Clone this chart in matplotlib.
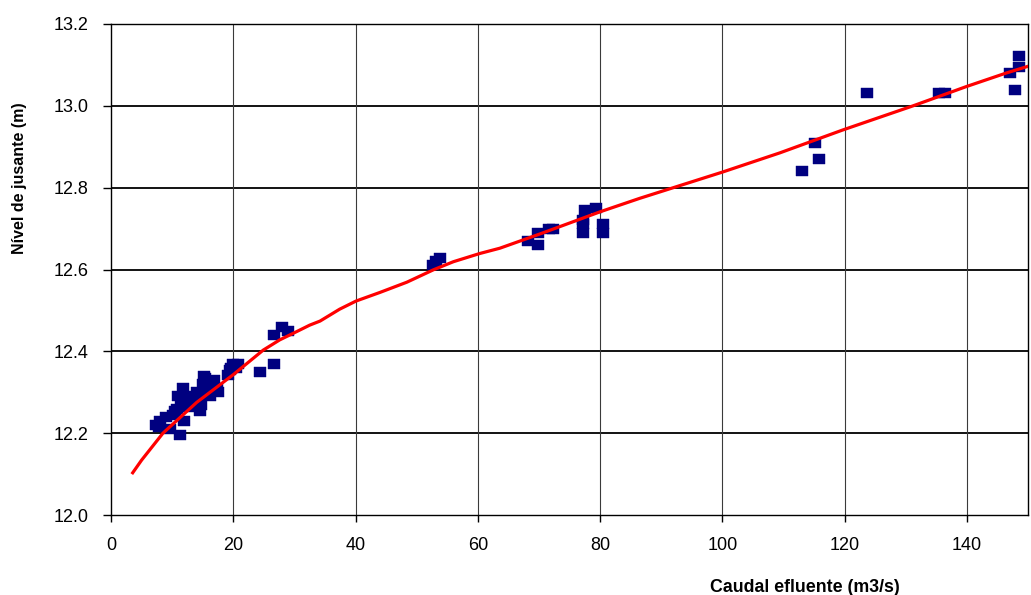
import matplotlib
matplotlib.use("Agg")
import matplotlib.pyplot as plt
from matplotlib.ticker import FormatStrFormatter

plt.rcParams['font.family'] = ['Liberation Sans', 'DejaVu Sans']

# Observed data (Caudal efluente m3/s, Nível de jusante m)
obs_q = [7.3, 7.8, 8.0, 9.0, 9.6, 10.2, 10.5, 10.8, 11.0, 11.3, 11.5, 11.8, 11.9,
         12.0, 12.3, 12.6, 13.0, 13.5, 14.0, 14.3, 14.6, 14.8, 15.0, 15.2, 15.4,
         15.6, 16.2, 16.5, 16.8, 17.3, 17.5, 19.2, 19.5, 19.7, 20.0, 20.8, 20.4,
         24.4, 26.6, 26.6, 27.9, 29.0,
         52.6, 53.2, 53.8,
         68.2, 69.9, 69.9, 71.7, 72.3, 77.5, 77.2, 77.2, 77.2, 79.4, 80.4, 80.4,
         113.0, 115.2, 115.8, 123.6, 135.5, 136.4, 147.0, 147.9, 148.5, 148.5]
obs_h = [12.22, 12.215, 12.23, 12.24, 12.21, 12.245, 12.255, 12.26, 12.29, 12.195, 12.28, 12.31, 12.23,
         12.27, 12.285, 12.265, 12.275, 12.29, 12.30, 12.28, 12.255, 12.27, 12.32, 12.34, 12.335,
         12.295, 12.29, 12.315, 12.33, 12.31, 12.30, 12.342, 12.355, 12.36, 12.37, 12.37, 12.36,
         12.35, 12.37, 12.44, 12.46, 12.45,
         12.61, 12.62, 12.627,
         12.67, 12.69, 12.66, 12.70, 12.70, 12.745, 12.72, 12.71, 12.69, 12.75, 12.71, 12.69,
         12.841, 12.91, 12.87, 13.031, 13.031, 13.031, 13.081, 13.038, 13.122, 13.094]

# Rating curve
curve_q = [3.4, 5.0, 8.5, 14.0, 20.0, 24.9, 27.6, 29.8, 32.5, 34.2, 37.4, 40.1, 44.0,
           48.4, 52.7, 56.0, 60.3, 63.6, 70.0, 80.0, 86.5, 100.0, 109.4, 119.7, 131.2,
           139.9, 146.4, 150.3]
curve_h = [12.10, 12.134, 12.20, 12.275, 12.343, 12.403, 12.428, 12.444, 12.464, 12.474,
           12.503, 12.523, 12.544, 12.569, 12.599, 12.619, 12.639, 12.652, 12.686, 12.741,
           12.774, 12.838, 12.885, 12.941, 13.000, 13.047, 13.080, 13.098]

x_ticks = [0, 20, 40, 60, 80, 100, 120, 140]
y_ticks = [12.0, 12.2, 12.4, 12.6, 12.8, 13.0, 13.2]

fig = plt.figure(figsize=(10.31, 5.95), dpi=100)
ax = fig.add_axes([111/1031, 1 - 515/595, (1028 - 111)/1031, (515 - 24)/595])

rect = [(-0.6, -0.5), (0.6, -0.5), (0.6, 0.5), (-0.6, 0.5), (-0.6, -0.5)]

for y in y_ticks[1:-1]:
    ax.axhline(y, color='black', lw=1.3, zorder=1)
for x in x_ticks[1:]:
    ax.axvline(x, color='#3a3a3a', lw=0.8, zorder=1)

ax.plot(obs_q, obs_h, linestyle='none', marker=rect, markersize=8.5,
        markerfacecolor='#000080', markeredgecolor='#000080', markeredgewidth=0.3, zorder=3)
ax.plot(curve_q, curve_h, color='#ff0000', lw=2.3, zorder=4, solid_capstyle='butt')

ax.set_xlim(0, 150)
ax.set_ylim(12.0, 13.2)
ax.set_xticks(x_ticks)
ax.set_yticks(y_ticks)
ax.yaxis.set_major_formatter(FormatStrFormatter('%.1f'))
ax.tick_params(axis='x', direction='out', length=5, width=1, labelsize=13, pad=11, colors='black')
ax.tick_params(axis='y', direction='out', length=6, width=1, labelsize=13, pad=10, colors='black')
for s in ax.spines.values():
    s.set_color('black')
    s.set_linewidth(1.0)

fig.text(805/1031, 1 - 592/595, 'Caudal efluente (m3/s)', ha='center', va='baseline',
         fontsize=12.8, fontweight='bold')
fig.text(20/1031, 1 - 178/595, 'Nível de jusante (m)', ha='center', va='center',
         rotation=90, fontsize=11.5, fontweight='bold')

fig.savefig('out.png', dpi=100)
